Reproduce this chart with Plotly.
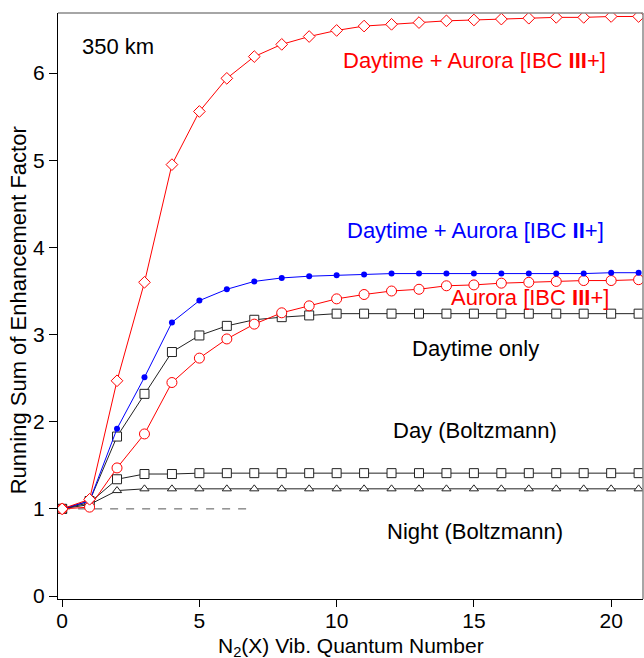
import plotly.graph_objects as go

v = list(range(22))

day_aurora_III = [1.0, 1.11, 2.47, 3.60, 4.95, 5.56, 5.94, 6.19, 6.33, 6.42, 6.49, 6.54,
                  6.56, 6.58, 6.60, 6.61, 6.62, 6.63, 6.64, 6.64, 6.65, 6.65]
day_aurora_II = [1.0, 1.09, 1.92, 2.51, 3.14, 3.39, 3.52, 3.61, 3.65, 3.67, 3.68, 3.69,
                 3.70, 3.70, 3.70, 3.70, 3.70, 3.70, 3.70, 3.70, 3.71, 3.71]
aurora_III = [1.0, 1.02, 1.47, 1.86, 2.45, 2.73, 2.95, 3.12, 3.25, 3.33, 3.41, 3.46,
              3.50, 3.52, 3.56, 3.57, 3.59, 3.60, 3.61, 3.62, 3.62, 3.63]
daytime_only = [1.0, 1.09, 1.83, 2.32, 2.80, 2.99, 3.10, 3.17, 3.20, 3.22, 3.24, 3.24,
                3.24, 3.24, 3.24, 3.24, 3.24, 3.24, 3.24, 3.24, 3.24, 3.24]
day_boltz = [1.0, 1.07, 1.34, 1.40, 1.40, 1.41, 1.41, 1.41, 1.41, 1.41, 1.41, 1.41,
             1.41, 1.41, 1.41, 1.41, 1.41, 1.41, 1.41, 1.41, 1.41, 1.41]
night_boltz = [1.0, 1.05, 1.21, 1.23, 1.23, 1.23, 1.23, 1.23, 1.23, 1.23, 1.23, 1.23,
               1.23, 1.23, 1.23, 1.23, 1.23, 1.23, 1.23, 1.23, 1.23, 1.23]
ref_x = [0, 6.85]
ref_y = [1, 1]

x_ticks = [0, 5, 10, 15, 20]
y_ticks = [0, 1, 2, 3, 4, 5, 6]

FONT = "Liberation Sans, Arial, Helvetica, sans-serif"
RED = "#ff0000"
BLUE = "#0000ff"
BLK = "#222222"

fig = go.Figure()

fig.add_trace(go.Scatter(x=ref_x, y=ref_y, mode="lines",
                         line=dict(color="#555555", width=1, dash="8px,8px"),
                         showlegend=False, hoverinfo="skip"))

def add(y, color, symbol, size, fill="white", lw=1.0):
    fig.add_trace(go.Scatter(
        x=v, y=y, mode="lines+markers",
        line=dict(color=color, width=1),
        marker=dict(symbol=symbol, size=size, color=fill,
                    line=dict(color=color, width=lw)),
        showlegend=False))

add(night_boltz, BLK, "triangle-up", 8)
add(day_boltz, BLK, "square", 9)
add(daytime_only, BLK, "square", 9)
add(aurora_III, RED, "circle", 10)
add(day_aurora_II, BLUE, "circle", 6, fill=BLUE, lw=0)
add(day_aurora_III, RED, "diamond", 9)

labels = [
    ("350 km", 0.65, 6.31, "black", "left"),
    ("Daytime + Aurora [IBC <b>III</b>+]", 15.04, 6.15, RED, "center"),
    ("Daytime + Aurora [IBC <b>II</b>+]", 15.06, 4.20, BLUE, "center"),
    ("Aurora [IBC <b>III</b>+]", 17.04, 3.43, RED, "center"),
    ("Daytime only", 15.05, 2.84, "black", "center"),
    ("Day (Boltzmann)", 15.05, 1.90, "black", "center"),
    ("Night (Boltzmann)", 15.05, 0.74, "black", "center"),
]
for txt, lx, ly, col, al in labels:
    fig.add_annotation(x=lx, y=ly, text=txt, showarrow=False, xanchor=al,
                       yanchor="middle", font=dict(family=FONT, size=22, color=col))

# axis titles
fig.add_annotation(xref="paper", yref="paper", x=0.5, y=-0.082,
                   text="N<sub>2</sub>(X) Vib. Quantum Number", showarrow=False,
                   xanchor="center", yanchor="middle",
                   font=dict(family=FONT, size=21, color="black"))
fig.add_annotation(xref="paper", yref="paper", x=-0.068, y=0.493,
                   text="Running Sum of Enhancement Factor", showarrow=False,
                   textangle=-90, xanchor="center", yanchor="middle",
                   font=dict(family=FONT, size=22, color="black"))

# gray top/right frame
fig.add_shape(type="line", xref="paper", yref="paper", x0=0, x1=1, y0=1, y1=1,
              line=dict(color="#888888", width=1.5))
fig.add_shape(type="line", xref="paper", yref="paper", x0=1, x1=1, y0=0, y1=1,
              line=dict(color="#888888", width=1.5))

fig.update_layout(
    width=644, height=658,
    margin=dict(l=58, r=1, t=13, b=59),
    plot_bgcolor="white", paper_bgcolor="white",
    font=dict(family=FONT, size=21, color="black"),
    xaxis=dict(range=[-0.15, 21.16], tickvals=x_ticks, showgrid=False, zeroline=False,
               showline=True, linecolor="black", linewidth=1.2, automargin=False,
               ticks="outside", ticklen=7, tickcolor="black",
               ticklabelstandoff=-4,
               tickfont=dict(size=21)),
    yaxis=dict(range=[-0.034, 6.69], tickvals=y_ticks, showgrid=False, zeroline=False,
               showline=True, linecolor="black", linewidth=1.2, automargin=False,
               ticks="outside", ticklen=8, tickcolor="black",
               tickfont=dict(size=21)),
)

fig.write_html("out.html", config={"displayModeBar": False},
               post_script="document.body.style.margin='0';")
